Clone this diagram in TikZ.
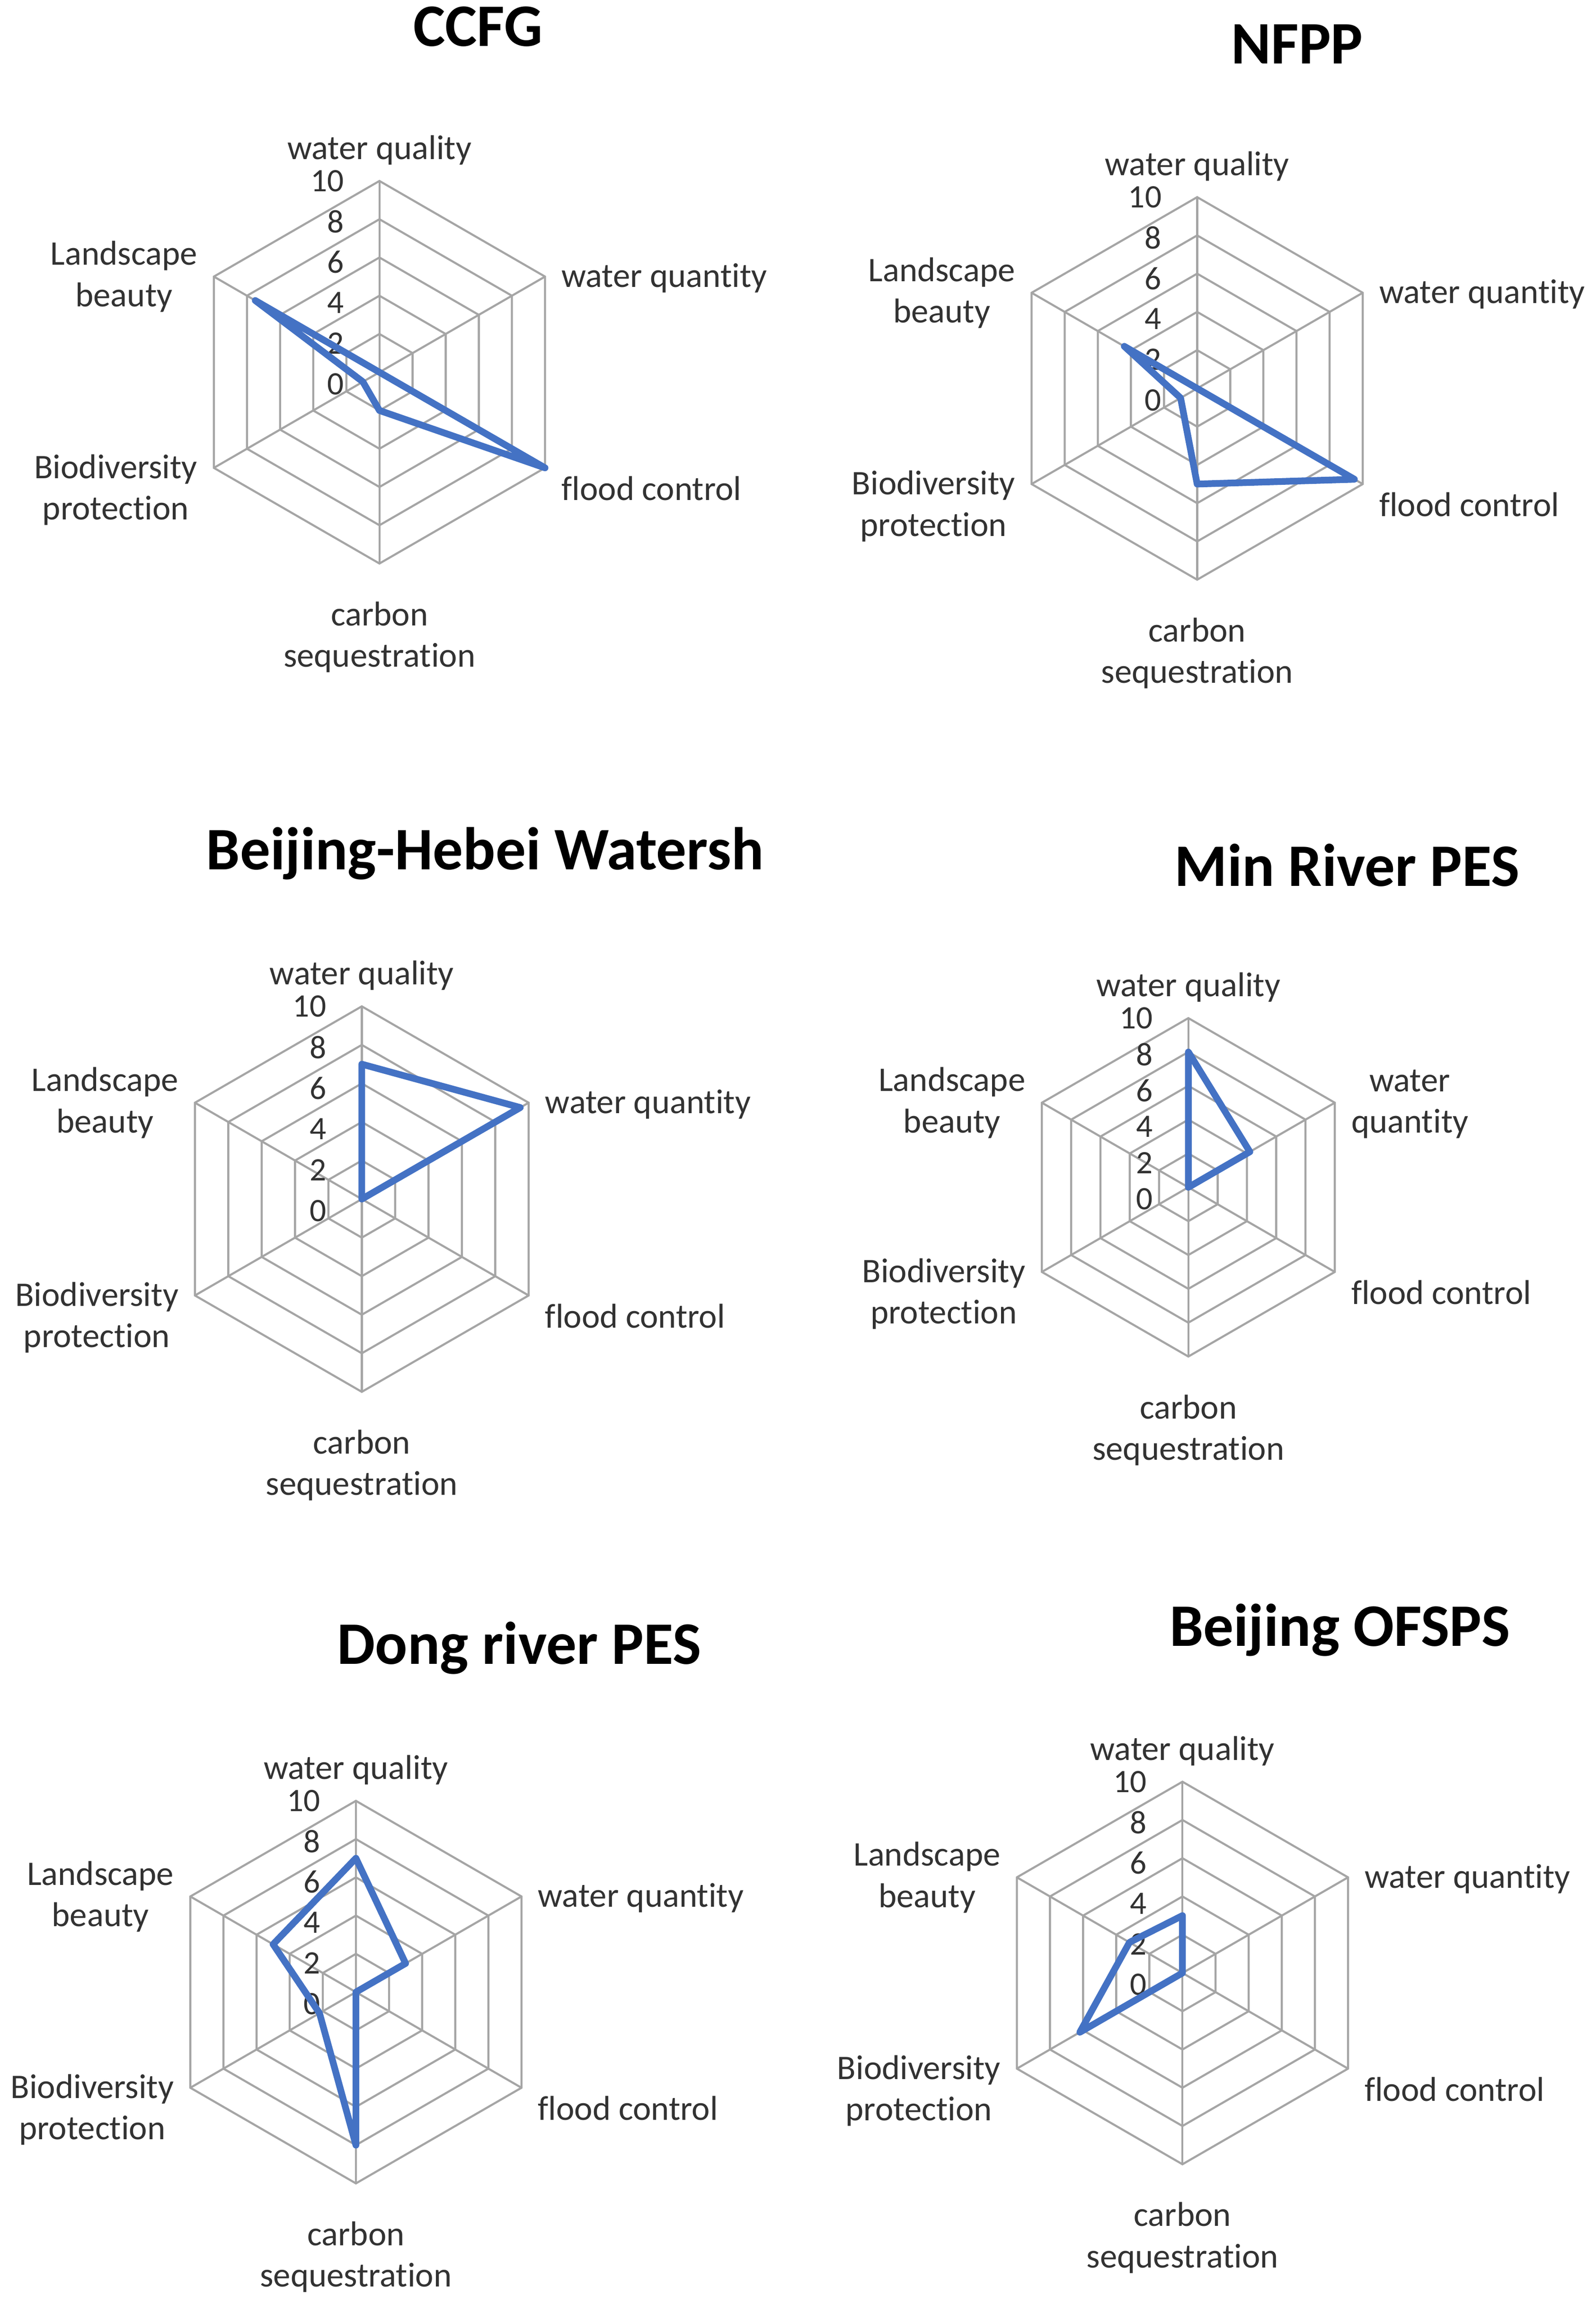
\documentclass[tikz,border=0pt]{standalone}
\usepackage{fontspec}
\setmainfont{Carlito}[Ligatures=NoCommon]
\definecolor{gridc}{RGB}{165,165,165}
\definecolor{datac}{RGB}{68,114,196}
\definecolor{txtc}{RGB}{50,50,50}
\tikzset{
  grid/.style={draw=gridc,line width=1.2pt},
  data/.style={draw=datac,line width=3.9pt,line join=round},
  lab/.style={text=txtc,font=\fontsize{20}{24}\selectfont,inner sep=0pt,align=center},
  num/.style={text=txtc,font=\fontsize{19}{22}\selectfont,inner sep=0pt},
  ttl/.style={text=black,font=\fontsize{35}{40}\selectfont\bfseries,inner sep=0pt}
}
\def\wqtext{water quantity}
\def\radarplot#1#2#3#4#5#6#7#8#9{%
\begin{scope}[shift={#2}]
 \begin{scope}[yscale=-1]
  \foreach \k in {1,...,5}{
    \draw[grid] (90:{\k*#3/5}) -- (30:{\k*#3/5}) -- (-30:{\k*#3/5}) -- (-90:{\k*#3/5}) -- (-150:{\k*#3/5}) -- (150:{\k*#3/5}) -- cycle;
  }
  \foreach \a in {90,30,-30,-90,-150,150}{ \draw[grid] (0,0) -- (\a:#3); }
  \foreach \k in {0,2,...,10}{
    \node[num,anchor=east] (#1-n\k) at (-24,{\k*#3/10-(8-0.8*\k)}) {\k};
  }
  \draw[data] (90:{#4*#3/10}) -- (30:{#5*#3/10}) -- (-30:{#6*#3/10}) -- (-90:{#7*#3/10}) -- (-150:{#8*#3/10}) -- (150:{#9*#3/10}) -- cycle;
 \end{scope}
 \node[lab] (#1-wq) at (0,{-(#3+21)}) {water quality};
 \node[lab,anchor=west] (#1-wqt) at ({#3*0.866+11},{-#3/2+1}) {\wqtext};
 \node[lab,anchor=west] (#1-fc) at ({#3*0.866+11},{#3/2+14}) {flood control};
 \node[lab] (#1-cs) at (0,{#3+50}) {carbon\\sequestration};
 \node[lab,anchor=east] (#1-bp) at ({-(#3*0.866+11)},{#3/2+15}) {Biodiversity\\protection};
 \node[lab,anchor=east] (#1-lb) at ({-(#3*0.866+11)},{-#3/2}) {Landscape\\beauty};
\end{scope}}
\begin{document}
\begin{tikzpicture}[x=0.03cm,y=-0.03cm]
\useasboundingbox[fill=white] (0,0) rectangle (1085,1566);
\node[ttl] (t1) at (325,18) {CCFG};
\node[ttl] (t2) at (882,30) {NFPP};
\node[ttl,anchor=west] (t3) at (140,580) {Beijing-Hebei Watersh};
\node[ttl] (t4) at (916,588) {Min River PES};
\node[ttl] (t5) at (353,1120) {Dong river PES};
\node[ttl] (t6) at (911,1108) {Beijing OFSPS};
\radarplot{a}{(258,253)}{130}{0}{0}{10}{2}{1}{7.5}
\radarplot{b}{(814,264)}{130}{0}{0}{9.5}{5}{1}{4.4}
\radarplot{c}{(246,815)}{131}{7}{9.5}{0}{0}{0}{0}
\def\wqtext{water\\quantity}
\radarplot{d}{(808,807)}{115}{8}{4.2}{0}{0}{0}{0}
\def\wqtext{water quantity}
\radarplot{e}{(242,1354)}{130}{7}{3}{0}{8}{2.2}{5}
\radarplot{f}{(804,1341)}{130}{3}{0}{0}{0}{6.2}{3.2}
\end{tikzpicture}
\end{document}
